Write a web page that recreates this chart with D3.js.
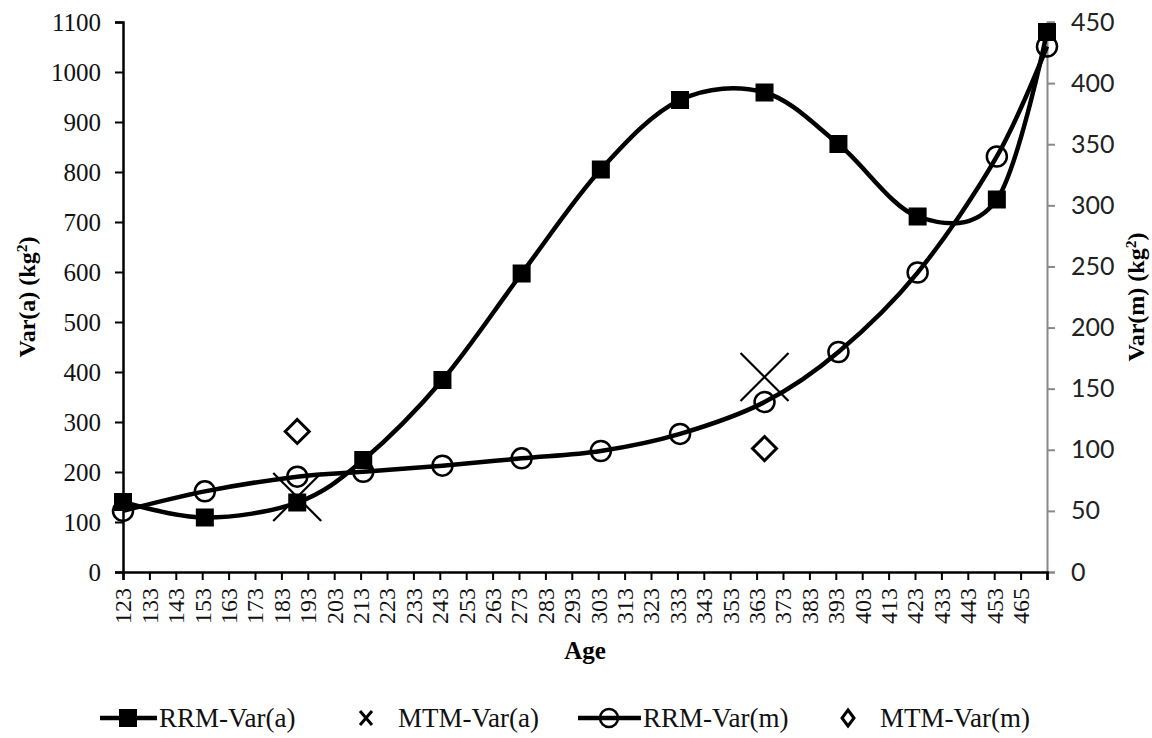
<!DOCTYPE html>
<html>
<head>
<meta charset="utf-8">
<script src="https://cdn.jsdelivr.net/npm/d3@7"></script>
<style>
  body { margin: 0; background: #fff; }
  svg { display: block; }
</style>
</head>
<body>
<svg id="chart"></svg>
<script>
// ages of the RRM curves and their variances
const ages = [123, 154, 189, 214, 244, 274, 304, 334, 366, 394, 424, 454, 473];
const rrmVarA = [140, 109, 139, 224, 384, 597, 805, 944, 959, 856, 711, 745, 1080];
const rrmVarM = [50, 66, 78, 82, 87, 93, 99, 113, 139, 180, 245, 340, 430];

// MTM point estimates
const mtmAges = [189, 366];
const mtmVarA = [150, 390];
const mtmVarM = [115, 101];

// axis ticks
const xTicks = [123, 133, 143, 153, 163, 173, 183, 193, 203, 213, 223, 233, 243, 253, 263, 273, 283, 293,
  303, 313, 323, 333, 343, 353, 363, 373, 383, 393, 403, 413, 423, 433, 443, 453, 463, 473];
const xTickLabels = ["123", "133", "143", "153", "163", "173", "183", "193", "203", "213", "223", "233",
  "243", "253", "263", "273", "283", "293", "303", "313", "323", "333", "343", "353", "363", "373", "383",
  "393", "403", "413", "423", "433", "443", "453", "465", ""];
const leftTicks = [0, 100, 200, 300, 400, 500, 600, 700, 800, 900, 1000, 1100];
const rightTicks = [0, 50, 100, 150, 200, 250, 300, 350, 400, 450];

const width = 1152;
const height = 738;
const serif = "'Liberation Serif', 'Times New Roman', serif";
const sans = "Lato, 'Liberation Sans', sans-serif";

const svg = d3.select("#chart").attr("width", width).attr("height", height);

const x = d3.scaleLinear().domain([123, 473]).range([123, 1047]);
const yL = d3.scaleLinear().domain([0, 1100]).range([572, 22]);
const yR = d3.scaleLinear().domain([0, 450]).range([572, 22]);

// right axis (gray)
const rAxis = svg.append("g")
  .attr("transform", "translate(1047,0)")
  .call(d3.axisRight(yR).tickValues(rightTicks).tickFormat(d => d).tickSize(8).tickPadding(16));
rAxis.select(".domain").attr("stroke", "#888").attr("stroke-width", 2);
rAxis.selectAll(".tick line").attr("stroke", "#888").attr("stroke-width", 2);
rAxis.selectAll("text").attr("font-family", sans).attr("font-size", 25).attr("fill", "#222");

// left axis
const lAxis = svg.append("g")
  .attr("transform", "translate(123,0)")
  .call(d3.axisLeft(yL).tickValues(leftTicks).tickFormat(d => d).tickSize(8).tickPadding(14));
lAxis.select(".domain").attr("stroke", "#000").attr("stroke-width", 2.5);
lAxis.selectAll(".tick line").attr("stroke", "#000").attr("stroke-width", 2);
lAxis.selectAll("text").attr("font-family", serif).attr("font-size", 25).attr("fill", "#111");

// bottom axis
const xAxis = svg.append("g")
  .attr("transform", "translate(0,572)")
  .call(d3.axisBottom(x).tickValues(xTicks).tickFormat((d, i) => xTickLabels[i]).tickSize(8));
xAxis.select(".domain").attr("stroke", "#000").attr("stroke-width", 2.5);
xAxis.selectAll(".tick line").attr("stroke", "#000").attr("stroke-width", 2);
xAxis.selectAll("text")
  .attr("font-family", serif).attr("font-size", 24).attr("fill", "#111")
  .attr("transform", "rotate(-90)")
  .attr("text-anchor", "end")
  .attr("x", -16).attr("y", 0).attr("dy", "0.33em");

// axis titles
function titleWithSup(g, main, tail) {
  g.append("tspan").text(main);
  g.append("tspan").attr("font-size", "0.65em").attr("dy", "-0.5em").text("2");
  g.append("tspan").attr("dy", "0.33em").text(tail);
}
svg.append("text")
  .attr("x", 585).attr("y", 659)
  .attr("text-anchor", "middle")
  .attr("font-family", serif).attr("font-size", 25).attr("font-weight", "bold")
  .text("Age");
titleWithSup(svg.append("text")
  .attr("transform", "translate(35,297) rotate(-90)")
  .attr("text-anchor", "middle")
  .attr("font-family", serif).attr("font-size", 24).attr("font-weight", "bold"), "Var(a) (kg", ")");
titleWithSup(svg.append("text")
  .attr("transform", "translate(1144,297) rotate(-90)")
  .attr("text-anchor", "middle")
  .attr("font-family", serif).attr("font-size", 24).attr("font-weight", "bold"), "Var(m) (kg", ")");

// smoothed lines (Excel style smoothing)
const lineA = d3.line().x((d, i) => x(ages[i])).y(d => yL(d)).curve(d3.curveCatmullRom.alpha(0));
const lineM = d3.line().x((d, i) => x(ages[i])).y(d => yR(d)).curve(d3.curveCatmullRom.alpha(0));

const plot = svg.append("g");

plot.append("path").datum(rrmVarA).attr("d", lineA)
  .attr("fill", "none").attr("stroke", "#000").attr("stroke-width", 4.5);
plot.selectAll("rect.sq").data(rrmVarA).join("rect")
  .attr("class", "sq")
  .attr("x", (d, i) => x(ages[i]) - 9).attr("y", d => yL(d) - 9)
  .attr("width", 18).attr("height", 18).attr("fill", "#000");

// MTM-Var(a): big crosses
const crossA = plot.selectAll("g.xa").data(mtmVarA).join("g")
  .attr("class", "xa")
  .attr("transform", (d, i) => `translate(${x(mtmAges[i])},${yL(d)})`);
crossA.append("path").attr("d", "M-24,-24L24,24M-24,24L24,-24")
  .attr("stroke", "#000").attr("stroke-width", 2.2).attr("fill", "none");

plot.append("path").datum(rrmVarM).attr("d", lineM)
  .attr("fill", "none").attr("stroke", "#000").attr("stroke-width", 4.5);
plot.selectAll("circle.ci").data(rrmVarM).join("circle")
  .attr("class", "ci")
  .attr("cx", (d, i) => x(ages[i])).attr("cy", d => yR(d))
  .attr("r", 10).attr("fill", "none").attr("stroke", "#000").attr("stroke-width", 2.5);

// MTM-Var(m): diamonds
plot.selectAll("path.dm").data(mtmVarM).join("path")
  .attr("class", "dm")
  .attr("transform", (d, i) => `translate(${x(mtmAges[i])},${yR(d)})`)
  .attr("d", "M0,-12L12,0L0,12L-12,0Z")
  .attr("fill", "none").attr("stroke", "#000").attr("stroke-width", 3);

// legend: four equal-width entries
const leg = svg.append("g").attr("transform", "translate(0,718)");
const legText = (xPos, label) => leg.append("text")
  .attr("x", xPos).attr("y", 0).attr("dy", "0.35em")
  .attr("font-family", serif).attr("font-size", 27).attr("fill", "#111").text(label);

leg.append("line").attr("x1", 100).attr("x2", 157).attr("y1", 0).attr("y2", 0)
  .attr("stroke", "#000").attr("stroke-width", 4.5);
leg.append("rect").attr("x", 119).attr("y", -9).attr("width", 18).attr("height", 18).attr("fill", "#000");
legText(159, "RRM-Var(a)");

leg.append("path").attr("transform", "translate(366,0)").attr("d", "M-6,-7L6,7M-6,7L6,-7")
  .attr("stroke", "#000").attr("stroke-width", 3).attr("fill", "none");
legText(398, "MTM-Var(a)");

leg.append("line").attr("x1", 578).attr("x2", 641).attr("y1", 0).attr("y2", 0)
  .attr("stroke", "#000").attr("stroke-width", 4.5);
leg.append("circle").attr("cx", 609).attr("cy", 0).attr("r", 9)
  .attr("fill", "none").attr("stroke", "#000").attr("stroke-width", 2.5);
legText(643, "RRM-Var(m)");

leg.append("path").attr("transform", "translate(848,0)").attr("d", "M0,-8L6,0L0,8L-6,0Z")
  .attr("stroke", "#000").attr("stroke-width", 3).attr("fill", "none");
legText(880, "MTM-Var(m)");
</script>
</body>
</html>
